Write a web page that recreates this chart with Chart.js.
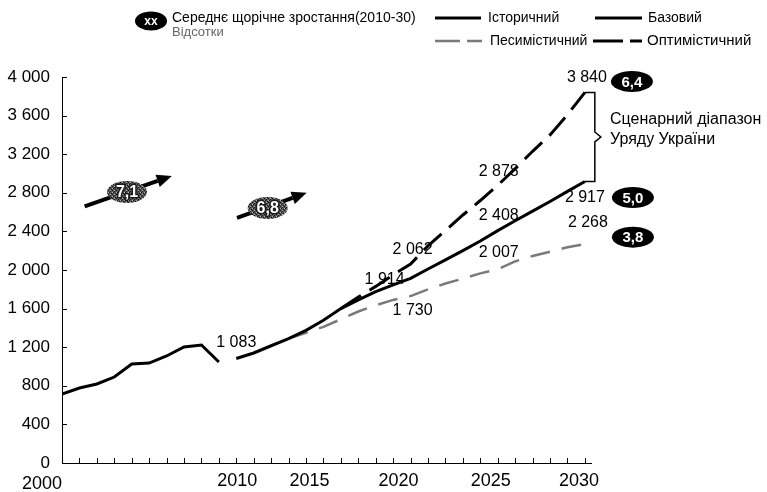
<!DOCTYPE html>
<html>
<head>
<meta charset="utf-8">
<script src="https://cdn.jsdelivr.net/npm/chart.js@4.4.1/dist/chart.umd.min.js"></script>
<style>
  html, body { margin: 0; padding: 0; background: #fff; }
  #wrap { width: 767px; height: 492px; }
</style>
</head>
<body>
<div id="wrap"><canvas id="c" width="767" height="492"></canvas></div>
<script>
// ВВП, млрд грн (ціни 2010 р.)
const histYears  = [2000, 2001, 2002, 2003, 2004, 2005, 2006, 2007, 2008, 2009];
const histValues = [715, 777, 819, 891, 1026, 1036, 1109, 1202, 1223, 1047];

const baseYears  = [2010, 2011, 2012, 2013, 2014, 2015, 2016, 2017, 2018, 2019, 2020,
                    2021, 2022, 2023, 2024, 2025, 2026, 2027, 2028, 2029, 2030];
const baseValues = [1083, 1140, 1215, 1290, 1375, 1480, 1600, 1690, 1775, 1845, 1914,
                    2010, 2105, 2200, 2300, 2408, 2510, 2610, 2710, 2815, 2917];

const pessYears  = [2013, 2014, 2015, 2016, 2017, 2018, 2019, 2020, 2021, 2022,
                    2023, 2024, 2025, 2026, 2027, 2028, 2029, 2030];
const pessValues = [1290, 1350, 1410, 1490, 1570, 1635, 1690, 1730, 1800, 1860,
                    1910, 1965, 2007, 2090, 2145, 2190, 2235, 2268];

const optYears   = [2016, 2017, 2018, 2019, 2020, 2021, 2022, 2023, 2024, 2025,
                    2026, 2027, 2028, 2029, 2030];
const optValues  = [1600, 1720, 1830, 1950, 2062, 2250, 2410, 2570, 2720, 2878,
                    3050, 3230, 3400, 3610, 3840];

// середнє щорічне зростання, %
const histGrowth     = ['7,1', '6,8'];
const scenarioGrowth = { opt: '6,4', base: '5,0', pess: '3,8' };

const yTicks      = [0, 400, 800, 1200, 1600, 2000, 2400, 2800, 3200, 3600, 4000];
const xTickLabels = [2000, 2010, 2015, 2020, 2025, 2030];

const FONT = "'Liberation Sans', Arial, sans-serif";
const fmt = v => String(v).replace(/\B(?=(\d{3})+(?!\d))/g, ' ');
const pts = (xs, ys) => xs.map((x, i) => ({ x, y: ys[i] }));

// сіра «зерниста» заливка для історичних бульбашок
function speckle() {
  const c = document.createElement('canvas');
  c.width = 4; c.height = 4;
  const g = c.getContext('2d');
  g.fillStyle = '#5a5a5a'; g.fillRect(0, 0, 4, 4);
  g.fillStyle = '#111';
  [[1,0],[3,1],[0,2],[2,3]].forEach(([i, j]) => g.fillRect(i, j, 1, 1));
  g.fillStyle = '#b0b0b0';
  [[0,0],[2,2]].forEach(([i, j]) => g.fillRect(i, j, 1, 1));
  return g.createPattern(c, 'repeat');
}

const ctx0 = document.getElementById('c').getContext('2d');

const datasets = [
  { key: 'pess', label: 'Песимістичний', data: pts(pessYears, pessValues),
    borderColor: '#7a7a7a', borderWidth: 2.5, borderDash: [20, 12], order: 4 },
  { key: 'base', label: 'Базовий', data: pts(baseYears, baseValues),
    borderColor: '#000', borderWidth: 3, order: 3 },
  { key: 'opt', label: 'Оптимістичний', data: pts(optYears, optValues),
    borderColor: '#000', borderWidth: 3, borderDash: [24, 10], order: 2 },
  { key: 'hist', label: 'Історичний', data: pts(histYears, histValues),
    borderColor: '#000', borderWidth: 3, order: 1 }
];

// зсуви підписів значень відносно точки
const labelOffsets = {
  base: { 2010: [0, -16], 2020: [-26, 1], 2025: [1, -15], 2030: [0, 16] },
  opt:  { 2020: [2, -14], 2025: [1, -14], 2030: [2, -15] },
  pess: { 2020: [2, 15],  2025: [1, -17], 2030: [3, -22] }
};
const growthOffsets = { opt: [47, -11], base: [48, 16], pess: [48, -7] };
const xLabelShift = { 2000: [-20, 21], 2010: [1, 18], 2015: [-14, 18], 2020: [-12, 18], 2025: [-7, 18], 2030: [-6, 18] };

// стрілки історичного зростання (в координатах осей)
const arrows = [
  { from: [2001.3, 2660], to: [2006.3, 2975], bubble: [2003.73, 2808] },
  { from: [2010.04, 2540], to: [2014.04, 2800], bubble: [2011.8, 2642] }
];

function ellipse(ctx, cx, cy, rx, ry, fill) {
  ctx.beginPath();
  ctx.ellipse(cx, cy, rx, ry, 0, 0, Math.PI * 2);
  ctx.fillStyle = fill;
  ctx.fill();
}

const decor = {
  id: 'decor',
  afterDatasetsDraw(chart) {
    const { ctx, chartArea: a } = chart;
    const xs = chart.scales.x, ys = chart.scales.y;
    const X = v => xs.getPixelForValue(v), Y = v => ys.getPixelForValue(v);
    ctx.save();

    // внутрішні поділки осей
    ctx.strokeStyle = '#000'; ctx.lineWidth = 1; ctx.setLineDash([]);
    ctx.beginPath();
    for (let yr = 2000; yr <= 2030; yr++) {
      const px = Math.round(X(yr)) + 0.5;
      ctx.moveTo(px, a.bottom); ctx.lineTo(px, a.bottom - 5);
    }
    yTicks.forEach(v => {
      const py = Math.round(Y(v)) + 0.5;
      ctx.moveTo(a.left, py); ctx.lineTo(a.left + 5, py);
    });
    ctx.stroke();

    // підписи років
    ctx.fillStyle = '#000';
    ctx.font = '18px ' + FONT;
    ctx.textAlign = 'center'; ctx.textBaseline = 'middle';
    xTickLabels.forEach(yr => {
      const [dx, dy] = xLabelShift[yr];
      ctx.fillText(String(yr), X(yr) + dx, a.bottom + dy);
    });

    // підписи значень
    ctx.font = '16px ' + FONT;
    chart.data.datasets.forEach(ds => {
      const offs = labelOffsets[ds.key];
      if (!offs) return;
      ds.data.forEach(p => {
        const o = offs[p.x];
        if (!o) return;
        ctx.fillText(fmt(p.y), X(p.x) + o[0], Y(p.y) + o[1]);
      });
    });

    // бульбашки середнього зростання сценаріїв
    chart.data.datasets.forEach(ds => {
      const g = scenarioGrowth[ds.key];
      if (!g) return;
      const last = ds.data[ds.data.length - 1];
      const [dx, dy] = growthOffsets[ds.key];
      const cx = X(last.x) + dx, cy = Y(last.y) + dy;
      ellipse(ctx, cx, cy, 21, 10.5, '#000');
      ctx.fillStyle = '#fff';
      ctx.font = 'bold 15px ' + FONT;
      ctx.fillText(g, cx, cy + 1);
    });

    // дужка сценарного діапазону
    const optLast = optValues[optValues.length - 1];
    const baseLast = baseValues[baseValues.length - 1];
    const bx0 = X(2030), bx1 = X(2030.57);
    const yt = Y(optLast), yb = Y(baseLast), ym = (yt + yb) / 2;
    ctx.strokeStyle = '#000'; ctx.lineWidth = 1.5;
    ctx.beginPath();
    ctx.moveTo(bx0, yt); ctx.lineTo(bx1, yt);
    ctx.lineTo(bx1, ym - 5); ctx.lineTo(bx1 + 6, ym); ctx.lineTo(bx1, ym + 5);
    ctx.lineTo(bx1, yb); ctx.lineTo(bx0, yb);
    ctx.stroke();
    ctx.fillStyle = '#000';
    ctx.font = '16px ' + FONT;
    ctx.textAlign = 'left';
    ctx.fillText('Сценарний діапазон', 610, 120);
    ctx.fillText('Уряду України', 610, 140);

    // стрілки історичного зростання
    const pat = speckle();
    arrows.forEach((ar, i) => {
      const x1 = X(ar.from[0]), y1 = Y(ar.from[1]);
      const x2 = X(ar.to[0]), y2 = Y(ar.to[1]);
      const ang = Math.atan2(y2 - y1, x2 - x1);
      const hl = 15, hw = 6.5;
      const bxp = x2 - hl * Math.cos(ang), byp = y2 - hl * Math.sin(ang);
      ctx.strokeStyle = '#000'; ctx.lineWidth = 4; ctx.lineCap = 'butt';
      ctx.beginPath(); ctx.moveTo(x1, y1); ctx.lineTo(bxp, byp); ctx.stroke();
      ctx.beginPath();
      ctx.moveTo(x2, y2);
      ctx.lineTo(bxp + hw * Math.sin(ang), byp - hw * Math.cos(ang));
      ctx.lineTo(bxp - hw * Math.sin(ang), byp + hw * Math.cos(ang));
      ctx.closePath();
      ctx.fillStyle = '#000'; ctx.fill();
      const cx = X(ar.bubble[0]), cy = Y(ar.bubble[1]);
      ellipse(ctx, cx, cy, 20, 11, pat);
      ctx.font = 'bold 16px ' + FONT;
      ctx.textAlign = 'center';
      ctx.lineWidth = 3; ctx.strokeStyle = '#1a1a1a'; ctx.lineJoin = 'round';
      ctx.strokeText(histGrowth[i], cx, cy + 1);
      ctx.fillStyle = '#fff';
      ctx.fillText(histGrowth[i], cx, cy + 1);
    });

    // легенда
    ellipse(ctx, 151, 21, 16, 9.5, '#000');
    ctx.fillStyle = '#fff';
    ctx.font = 'bold 12px ' + FONT;
    ctx.textAlign = 'center';
    ctx.fillText('xx', 151, 22);
    ctx.textAlign = 'left';
    ctx.fillStyle = '#000';
    ctx.font = '14px ' + FONT;
    ctx.fillText('Середнє щорічне зростання(2010-30)', 172, 18);
    ctx.fillStyle = '#666';
    ctx.font = '13px ' + FONT;
    ctx.fillText('Відсотки', 172, 32);

    const byKey = {};
    chart.data.datasets.forEach(ds => byKey[ds.key] = ds);
    const legendItems = [
      { key: 'hist', x1: 435, x2: 481, y: 18, dash: [], tx: 488 },
      { key: 'base', x1: 595, x2: 642, y: 18, dash: [], tx: 648 },
      { key: 'pess', x1: 435, x2: 482, y: 41, dash: [25, 7], tx: 490 },
      { key: 'opt',  x1: 593, x2: 642, y: 41, dash: [30, 7], tx: 647 }
    ];
    legendItems.forEach(it => {
      const ds = byKey[it.key];
      ctx.strokeStyle = ds.borderColor;
      ctx.lineWidth = ds.borderWidth;
      ctx.setLineDash(it.dash);
      ctx.beginPath(); ctx.moveTo(it.x1, it.y); ctx.lineTo(it.x2, it.y); ctx.stroke();
      ctx.setLineDash([]);
      ctx.fillStyle = '#000';
      ctx.font = (it.key === 'opt' ? '15px ' : '14px ') + FONT;
      ctx.fillText(ds.label, it.tx, it.y);
    });

    ctx.restore();
  }
};

new Chart(ctx0, {
  type: 'line',
  data: { datasets },
  options: {
    responsive: false,
    animation: false,
    devicePixelRatio: 1,
    layout: { padding: { top: 77, right: 176, bottom: 0, left: 0 } },
    elements: { point: { radius: 0 }, line: { tension: 0, borderCapStyle: 'butt' } },
    plugins: { legend: { display: false }, tooltip: { enabled: false } },
    scales: {
      x: {
        type: 'linear', min: 2000, max: 2030.35,
        grid: { display: false },
        border: { display: true, color: '#000', width: 1 },
        ticks: { display: false },
        afterFit: s => { s.height = 29; }
      },
      y: {
        min: 0, max: 4000,
        grid: { display: false },
        border: { display: true, color: '#000', width: 1 },
        afterBuildTicks: s => { s.ticks = yTicks.map(v => ({ value: v })); },
        ticks: {
          padding: 4, color: '#000',
          font: { family: FONT, size: 17 },
          callback: v => fmt(v)
        },
        afterFit: s => { s.width = 62; }
      }
    }
  },
  plugins: [decor]
});
</script>
</body>
</html>
